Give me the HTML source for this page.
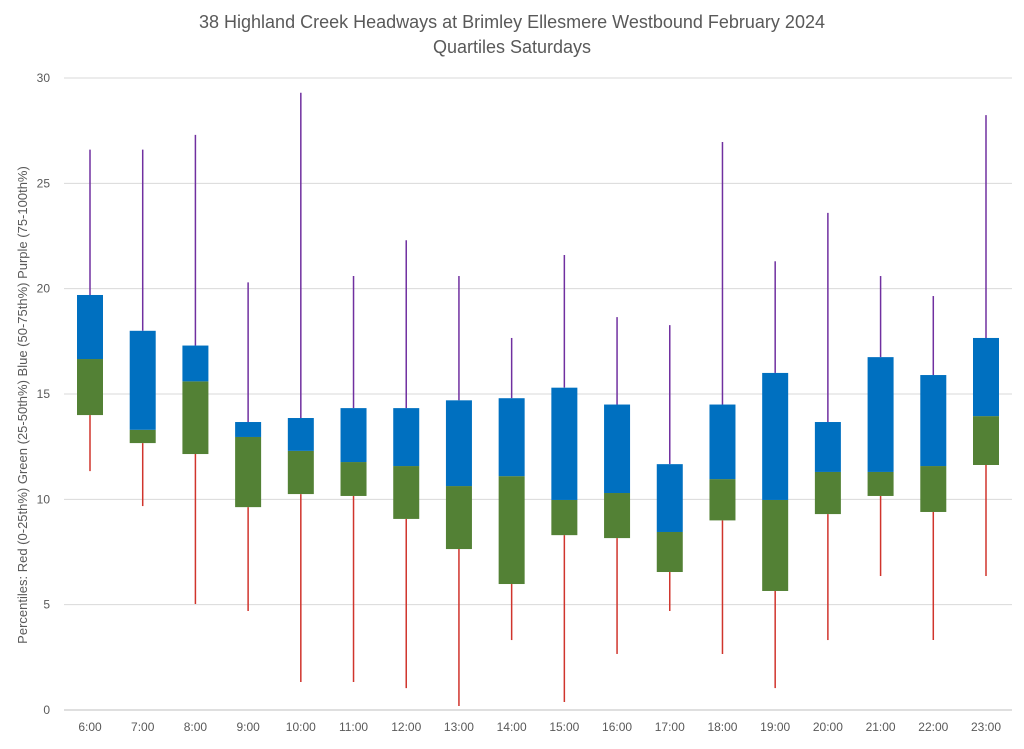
<!DOCTYPE html>
<html><head><meta charset="utf-8"><style>
body{margin:0;background:#fff;font-family:"Liberation Sans",sans-serif;}
svg text{font-family:"Liberation Sans",sans-serif;fill:#595959;}
</style></head><body>
<svg id="chart" width="1024" height="744">
<text x="512" y="28" text-anchor="middle" font-size="18">38 Highland Creek Headways at Brimley Ellesmere Westbound February 2024</text>
<text x="512" y="53" text-anchor="middle" font-size="18">Quartiles Saturdays</text>
<text transform="translate(27,405) rotate(-90)" text-anchor="middle" font-size="13">Percentiles:  Red (0-25th%)  Green (25-50th%)  Blue (50-75th%)  Purple (75-100th%)</text>
<g id="grid"></g><g id="marks"></g>
</svg>
<script>
const categories=["6:00","7:00","8:00","9:00","10:00","11:00","12:00","13:00","14:00","15:00","16:00","17:00","18:00","19:00","20:00","21:00","22:00","23:00"];
const minVals=[11.34,9.68,5.03,4.7,1.33,1.33,1.04,0.19,3.32,0.38,2.66,4.7,2.66,1.04,3.32,6.36,3.32,6.36];
const q1Vals=[14.0,12.67,12.15,9.63,10.25,10.16,9.07,7.64,5.98,8.3,8.16,6.55,9.0,5.65,9.3,10.16,9.4,11.63];
const medVals=[16.66,13.3,15.6,12.96,12.3,11.77,11.58,10.63,11.1,9.97,10.3,8.45,10.96,9.97,11.3,11.3,11.58,13.95];
const q3Vals=[19.7,18.0,17.3,13.67,13.86,14.33,14.33,14.7,14.8,15.3,14.5,11.67,14.5,16.0,13.67,16.75,15.9,17.66];
const maxVals=[26.6,26.6,27.3,20.3,29.3,20.6,22.3,20.6,17.66,21.6,18.65,18.27,26.96,21.3,23.6,20.6,19.65,28.24];
const yTicks=[0,5,10,15,20,25,30];
const NS="http://www.w3.org/2000/svg";
const y=v=>710-v*(632/30);
const x=i=>90+i*(896/17);
const grid=document.getElementById("grid"),marks=document.getElementById("marks");
function mk(tag,attrs,parent){const e=document.createElementNS(NS,tag);for(const k in attrs)e.setAttribute(k,attrs[k]);parent.appendChild(e);return e;}
yTicks.forEach(t=>{
  const l=mk("line",{x1:64,x2:1012,y1:y(t),y2:y(t),stroke:t===0?"#bfbfbf":"#d9d9d9","stroke-width":1},grid);
  
  
  const tx=mk("text",{x:50,y:y(t)+4,"text-anchor":"end","font-size":12},grid);tx.textContent=t;
  
  
});
categories.forEach((c,i)=>{
  const cx=x(i),w=26;
  const lo=mk("line",{x1:cx,x2:cx,y1:y(minVals[i]),y2:y(q1Vals[i]),stroke:"#d0342c","stroke-width":1.5},marks);
  
  
  const hi=mk("line",{x1:cx,x2:cx,y1:y(maxVals[i]),y2:y(q3Vals[i]),stroke:"#7030a0","stroke-width":1.5},marks);
  
  
  const g=mk("rect",{x:cx-w/2,y:y(medVals[i]),width:w,height:y(q1Vals[i])-y(medVals[i]),fill:"#538135"},marks);
  
  
  const b=mk("rect",{x:cx-w/2,y:y(q3Vals[i]),width:w,height:y(medVals[i])-y(q3Vals[i]),fill:"#0070c0"},marks);
  
  
  const t=mk("text",{x:cx,y:731,"text-anchor":"middle","font-size":12},marks);t.textContent=c;
  
  
});
</script>
</body></html>
